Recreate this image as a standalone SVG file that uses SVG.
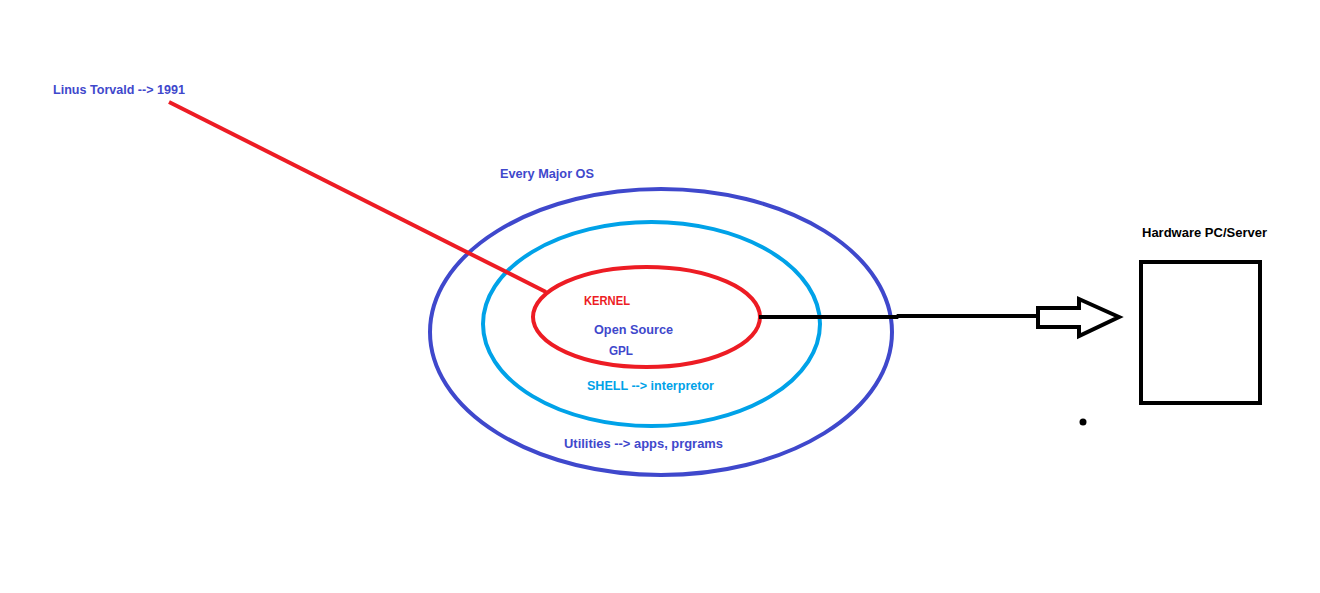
<svg xmlns="http://www.w3.org/2000/svg" width="1320" height="593" viewBox="0 0 1320 593">
<style>
text{font-family:"Liberation Sans",Arial,sans-serif;font-weight:bold;font-size:12px}
.b{fill:#3f48cc}.r{fill:#ed1c24}.c{fill:#00a2e8}.k{fill:#000}
</style>
<rect width="1320" height="593" fill="#fff"/>
<g id="os">
<ellipse cx="661" cy="332" rx="231" ry="143" fill="none" stroke="#3f48cc" stroke-width="4"/>
<text class="b" x="500" y="178" textLength="94" lengthAdjust="spacingAndGlyphs">Every Major OS</text>
<text class="b" x="564" y="448" textLength="159" lengthAdjust="spacingAndGlyphs">Utilities --&gt; apps, prgrams</text>
</g>
<g id="shell">
<ellipse cx="651.5" cy="324" rx="168.5" ry="102" fill="none" stroke="#00a2e8" stroke-width="4"/>
<text class="c" x="587" y="390" textLength="127" lengthAdjust="spacingAndGlyphs">SHELL --&gt; interpretor</text>
</g>
<g id="kernel">
<ellipse cx="646.5" cy="317" rx="113.5" ry="50" fill="none" stroke="#ed1c24" stroke-width="4"/>
<text class="r" x="584" y="305" textLength="46" lengthAdjust="spacingAndGlyphs">KERNEL</text>
<text class="b" x="594" y="334" textLength="79" lengthAdjust="spacingAndGlyphs">Open Source</text>
<text class="b" x="609" y="355" textLength="24" lengthAdjust="spacingAndGlyphs">GPL</text>
</g>
<g id="linus">
<text class="b" x="53" y="94" textLength="132" lengthAdjust="spacingAndGlyphs">Linus Torvald --&gt; 1991</text>
</g>
<g id="hardware">
<rect x="1141" y="262" width="119" height="141" fill="none" stroke="#000" stroke-width="4"/>
<text class="k" x="1142" y="237" textLength="125" lengthAdjust="spacingAndGlyphs">Hardware PC/Server</text>
</g>
<g id="connectors">
<line x1="169" y1="102" x2="546" y2="292" stroke="#ed1c24" stroke-width="4"/>
<polyline points="759,317 897,317 898,316 1037,316" fill="none" stroke="#000" stroke-width="4"/>
<polygon points="1038,308 1079,308 1079,299 1119,317 1079,336 1079,327 1038,327" fill="#fff" stroke="#000" stroke-width="4" stroke-linejoin="miter"/>
<circle cx="1083" cy="422" r="3.5" fill="#000"/>
</g>
</svg>
